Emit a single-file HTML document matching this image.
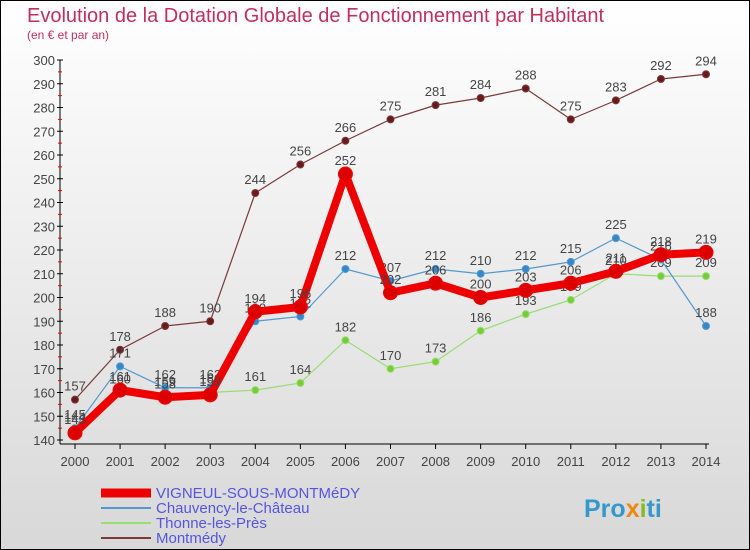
<!DOCTYPE html>
<html><head><meta charset="utf-8"><style>
body{margin:0}
#c{width:748px;height:548px;border:1px solid #000;background:linear-gradient(#fff,#d8d8d8);position:relative;font-family:"Liberation Sans","DejaVu Sans",sans-serif;overflow:hidden}
</style></head><body>
<div id="c">
<svg id="s" width="748" height="548"></svg>
</div>
<script>
const years=[2000,2001,2002,2003,2004,2005,2006,2007,2008,2009,2010,2011,2012,2013,2014];
const montmedy=[157,178,188,190,244,256,266,275,281,284,288,275,283,292,294];
const vigneul=[143,161,158,159,194,196,252,202,206,200,203,206,211,218,219];
const chauvency=[145,171,162,162,190,192,212,207,212,210,212,215,225,216,188];
const thonne=[144,160,159,160,161,164,182,170,173,186,193,199,210,209,209];
const yTicks=[140,150,160,170,180,190,200,210,220,230,240,250,260,270,280,290,300];
const X=i=>74+i*(631/14), Y=v=>439-(v-140)*2.375;
const s=document.getElementById('s'),NS='http://www.w3.org/2000/svg';
function el(t,a,txt,name,p){const e=document.createElementNS(NS,t);for(const k in a)e.setAttribute(k,a[k]);if(txt!=null)e.textContent=txt;


(p||s).appendChild(e);return e;}
el('text',{x:26,y:21,'font-size':20,fill:'#c0305a'},'Evolution de la Dotation Globale de Fonctionnement par Habitant','chart-title');
el('text',{x:26,y:38,'font-size':12,fill:'#c0305a'},'(en € et par an)','chart-subtitle');
el('line',{x1:59,y1:59,x2:59,y2:443,stroke:'#000'},null,'y-axis');
el('line',{x1:59,y1:443,x2:708,y2:443,stroke:'#000'},null,'x-axis');
yTicks.forEach(v=>{el('line',{x1:56,x2:62,y1:Y(v),y2:Y(v),stroke:'#000'},null,'y-tick');
el('text',{x:54,y:Y(v)+5,'font-size':13,fill:'#444','text-anchor':'end'},v,'y-tick-label');
if(v<300)el('line',{x1:57,x2:61,y1:Y(v+5),y2:Y(v+5),stroke:'#e00'},null,'y-minor-tick');});
years.forEach((y,i)=>{el('line',{x1:X(i),x2:X(i),y1:443,y2:448,stroke:'#000'},null,'x-tick');
el('text',{x:X(i),y:465,'font-size':13,fill:'#444','text-anchor':'middle'},y,'x-tick-label');});
function series(d,col,w,r,dot,name){
el('polyline',{points:d.map((v,i)=>X(i)+','+Y(v)).join(' '),fill:'none',stroke:col,'stroke-width':w,'stroke-linejoin':'round'},null,name+'-line');
d.forEach((v,i)=>{el('circle',{cx:X(i),cy:Y(v),r:r,fill:dot,stroke:col,'stroke-width':1},null,name+'-point');
el('text',{x:X(i),y:Y(v)-9,'font-size':13,fill:'#444','text-anchor':'middle'},v,name+'-label');});}
series(montmedy,'#7a3a3a',1.2,3.5,'#6a1a1a','montmedy');
series(thonne,'#99dd77',1.2,3.5,'#77cc33','thonne');
series(chauvency,'#5599cc',1.2,3.5,'#3388cc','chauvency');
series(vigneul,'#ee0000',8,7,'#dd0000','vigneul');
const leg=[['VIGNEUL-SOUS-MONTMéDY','#ee0000',9],['Chauvency-le-Château','#5599cc',2],['Thonne-les-Près','#99dd77',2],['Montmédy','#7a3a3a',2]];
leg.forEach((l,i)=>{const y=492+i*15;el('line',{x1:100,x2:150,y1:y,y2:y,stroke:l[1],'stroke-width':l[2]},null,'legend-swatch');
el('text',{x:155,y:y+5,'font-size':15,fill:'#5555dd'},l[0],'legend-entry');});
const logo=el('text',{x:583,y:516,'font-size':25,'font-weight':'bold'},null,'logo');
[['Pro','#3399cc'],['x','#ee8811'],['i','#88bb22'],['ti','#3399cc']].forEach(p=>{el('tspan',{fill:p[1]},p[0],'logo-part',logo);});
</script>
</body></html>
